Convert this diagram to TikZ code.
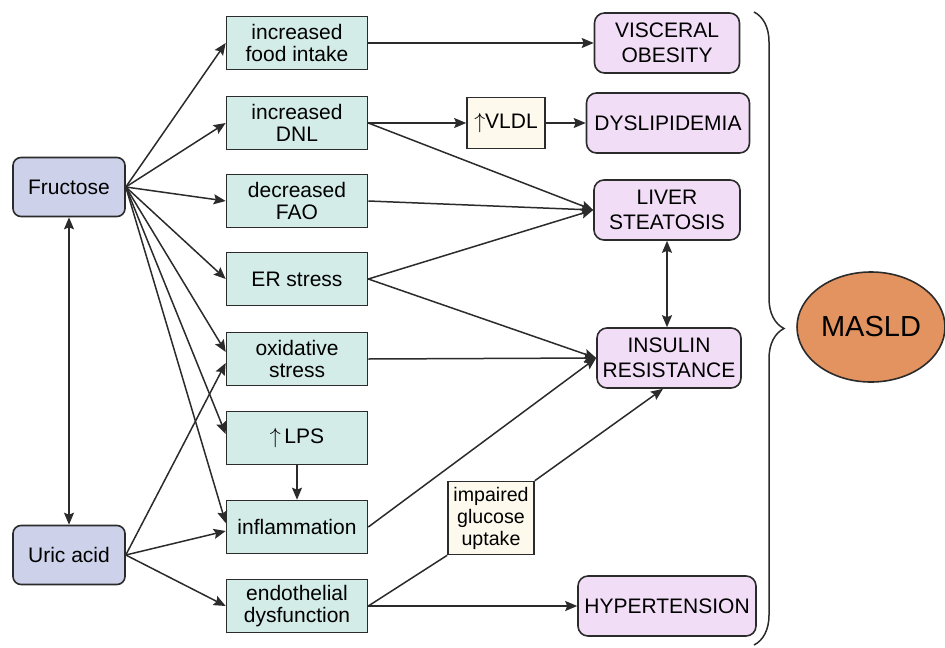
\documentclass[tikz,border=0pt]{standalone}
\usepackage{fontspec}
\setmainfont{Liberation Sans}
\usetikzlibrary{arrows.meta,shapes.geometric,decorations.pathreplacing}

\definecolor{srcblue}{HTML}{CDD2EA}
\definecolor{midgreen}{HTML}{D3ECE8}
\definecolor{notecream}{HTML}{FDF9EC}
\definecolor{outpink}{HTML}{F2DDF7}
\definecolor{maslorange}{HTML}{E3935F}
\definecolor{edgegray}{HTML}{2B2B2B}

\begin{document}
\begin{tikzpicture}[x=0.5pt,y=-0.5pt,
    every node/.style={font=\fontsize{10.5}{11}\selectfont, align=center, inner sep=0pt},
    box/.style={draw=edgegray, line width=0.8pt},
    srcbox/.style={box, fill=srcblue, rounded corners=4pt, minimum width=56pt, minimum height=29.5pt},
    midbox/.style={box, fill=midgreen, minimum width=70.5pt, minimum height=26.5pt},
    notebox/.style={box, fill=notecream},
    outbox/.style={box, fill=outpink, rounded corners=5pt, minimum height=30pt, font=\fontsize{10.5}{12.5}\selectfont},
    link/.style={draw=edgegray, line width=0.75pt},
    arr/.style={link, -{Stealth[length=6pt,width=5pt,inset=1pt]}},
    darr/.style={link, {Stealth[length=6pt,width=5pt,inset=1pt]}-{Stealth[length=6pt,width=5pt,inset=1pt]}}]
      \useasboundingbox (0,0) rectangle (945,647);
      \node[srcbox] (fru) at (69,187) {Fructose};
      \node[srcbox] (uric) at (69,555) {Uric acid};
      \node[midbox] (food) at (297,43) {increased\\food intake};
      \node[midbox] (dnl) at (297,123) {increased\\DNL};
      \node[midbox] (fao) at (297,201) {decreased\\FAO};
      \node[midbox] (er) at (297,279) {ER stress};
      \node[midbox] (ox) at (297,359) {oxidative\\stress};
      \node[midbox] (lps) at (297,438) {$\uparrow$\,LPS};
      \node[midbox] (inf) at (297,527) {inflammation};
      \node[midbox] (endo) at (297,606) {endothelial\\dysfunction};
      \node[notebox, minimum width=39pt, minimum height=25.5pt] (vldl) at (506,123) {$\uparrow$VLDL};
      \node[notebox, minimum width=43pt, minimum height=36.5pt, font=\fontsize{9.8}{11}\selectfont] (imp) at (491,518) {impaired\\glucose\\uptake};
      \node[outbox, minimum width=72.5pt] (visc) at (667,43) {VISCERAL\\OBESITY};
      \node[outbox, minimum width=81.5pt] (dys) at (668,123) {DYSLIPIDEMIA};
      \node[outbox, minimum width=73pt] (liv) at (667,210) {LIVER\\STEATOSIS};
      \node[outbox, minimum width=72pt] (ins) at (669,358) {INSULIN\\RESISTANCE};
      \node[outbox, minimum width=89pt] (hyp) at (667,606) {HYPERTENSION};
      \node[ellipse, box, fill=maslorange, minimum width=74pt, minimum height=55pt, font=\fontsize{14.5}{16}\selectfont] (masld) at (871,327) {MASLD};
      \draw[link, decorate, decoration={brace, amplitude=15pt}] (754,12) -- (754,645);
      \draw[arr] (fru.east) -- (food.west);
      \draw[arr] (fru.east) -- (dnl.west);
      \draw[arr] (fru.east) -- (fao.west);
      \draw[arr] (fru.east) -- (er.west);
      \draw[arr] (fru.east) -- ([yshift=3.5pt]ox.west);
      \draw[arr] (fru.east) -- ([yshift=2pt]lps.west);
      \draw[arr] (fru.east) -- ([yshift=2pt]inf.west);
      \draw[arr] (uric.east) -- ([yshift=-2pt]ox.west);
      \draw[arr] (uric.east) -- ([yshift=-2pt]inf.west);
      \draw[arr] (uric.east) -- (endo.west);
      \draw[darr] (fru.south) -- (uric.north);
      \draw[arr] (food) -- (visc);
      \draw[arr] (dnl) -- (vldl);
      \draw[arr] (vldl) -- (dys);
      \draw[arr] (dnl.east) -- (liv.west);
      \draw[arr] (fao.east) -- (liv.west);
      \draw[arr] (er.east) -- (liv.west);
      \draw[arr] (er.east) -- (ins.west);
      \draw[arr] (ox.east) -- (ins.west);
      \draw[arr] (inf.east) -- (ins.west);
      \draw[arr] (lps) -- (inf);
      \draw[link] (endo.east) -- (imp.south west);
      \draw[arr] (imp.north east) -- ([xshift=-3pt]ins.south);
      \draw[arr] (endo) -- (hyp);
      \draw[darr] (liv.south) -- (liv.south |- ins.north);
    \end{tikzpicture}
\end{document}
